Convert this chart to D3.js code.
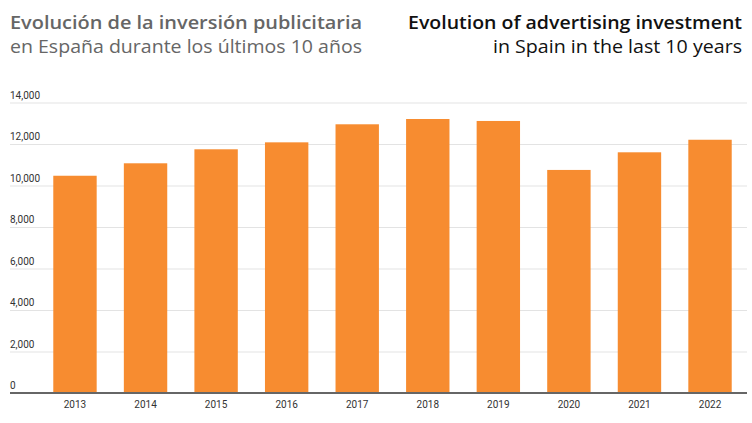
<!DOCTYPE html>
<html><head><meta charset="utf-8">
<script src="https://cdn.jsdelivr.net/npm/d3@7"></script>
<style>body{margin:0;background:#fff}svg{display:block}</style>
</head><body>
<svg id="c" width="752" height="423"></svg>
<script>
const years = ["2013","2014","2015","2016","2017","2018","2019","2020","2021","2022"];
const investment = [10470, 11070, 11745, 12080, 12950, 13205, 13110, 10750, 11600, 12205];
const yTicks = [0, 2000, 4000, 6000, 8000, 10000, 12000, 14000];
const titleEs = ["Evolución de la inversión publicitaria", "en España durante los últimos 10 años"];
const titleEn = ["Evolution of advertising investment", "in Spain in the last 10 years"];

const svg = d3.select("#c");
const font = "Roboto, 'Noto Sans', sans-serif";
const tfont = "'Open Sans', 'Noto Sans', sans-serif";

const x = d3.scaleBand().domain(years).range([39.7, 745.3]).paddingInner(0.385).paddingOuter(0.1925);
const y = d3.scaleLinear().domain([0, 14000]).range([393, 102.5]);

function title(txt, xx, yy, anchor, weight, color, len) {
  svg.append("text").attr("x", xx).attr("y", yy).attr("text-anchor", anchor).text(txt)
    .attr("font-family", tfont).attr("font-size", 18).attr("font-weight", weight).attr("fill", color)
    .attr("textLength", len).attr("lengthAdjust", "spacingAndGlyphs");
}
title(titleEs[0], 10, 29, "start", 600, "#666", 352);
title(titleEs[1], 10, 53, "start", 400, "#666", 352);
title(titleEn[0], 742, 29, "end", 600, "#111", 334);
title(titleEn[1], 742, 53, "end", 400, "#111", 249);

// grid
const grid = svg.append("g").attr("transform", "translate(10,0)")
  .call(d3.axisRight(y).tickValues(yTicks.filter(d => d > 0)).tickSize(737).tickFormat(""));
grid.select(".domain").remove();
grid.selectAll("line").attr("stroke", "#e3e3e3").attr("stroke-width", 1);

// y labels
svg.append("g").selectAll("text").data(yTicks).join("text")
  .attr("x", 10).attr("y", d => y(d) - 4)
  .attr("font-family", font).attr("font-size", 10).attr("fill", "#333")
  .text(d => d3.format(",")(d));

// bars
svg.append("g").selectAll("rect").data(years).join("rect")
  .attr("x", d => x(d)).attr("width", x.bandwidth())
  .attr("y", (d, i) => y(investment[i])).attr("height", (d, i) => y(0) - y(investment[i]))
  .attr("fill", "#f78c30");

// x axis
const xa = svg.append("g").attr("transform", `translate(0,${y(0)})`)
  .call(d3.axisBottom(x).tickSize(0).tickPadding(8));
xa.select(".domain").remove();
xa.selectAll("text").attr("font-family", font).attr("font-size", 10).attr("fill", "#333");
svg.append("line").attr("x1", 10).attr("x2", 747).attr("y1", y(0)).attr("y2", y(0))
  .attr("stroke", "#666").attr("stroke-width", 2);
</script>
</body></html>
